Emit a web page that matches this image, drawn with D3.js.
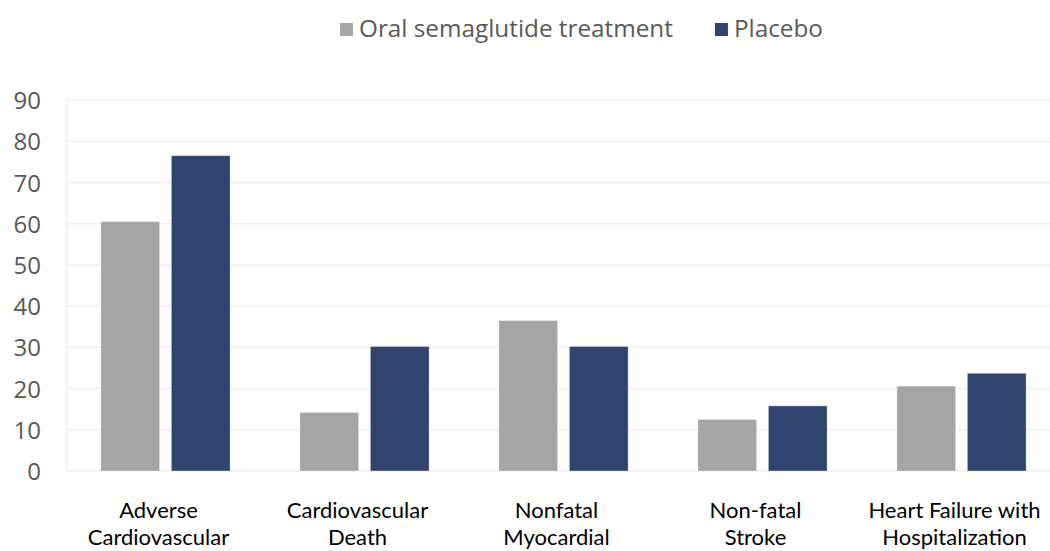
<!DOCTYPE html>
<html>
<head>
<meta charset="utf-8">
<script src="https://cdn.jsdelivr.net/npm/d3@7"></script>
<style>
  body { margin: 0; background: #fff; }
  svg { display: block; }
</style>
</head>
<body>
<svg id="chart"></svg>
<script>
"use strict"
const categorie = [
    ["Adverse", "Cardiovascular"],
    ["Cardiovascular", "Death"],
    ["Nonfatal", "Myocardial"],
    ["Non-fatal", "Stroke"],
    ["Heart Failure with", "Hospitalization"]
];
const serie = ["Oral semaglutide treatment", "Placebo"];
const semaglutide = [60.5, 14.2, 36.5, 12.5, 20.6];
const placebo = [76.5, 30.2, 30.2, 15.8, 23.7];
const tickY = [0, 10, 20, 30, 40, 50, 60, 70, 80, 90];

const colori = ["#a5a5a5", "#31446f"];
const grafico = { w: 1050, h: 551 };

const svg = d3.select("#chart")
    .attr("width", grafico.w)
    .attr("height", grafico.h);

const dati = categorie.map(function (c, i) {
    return { nome: c.join(" "), righe: c, valori: [semaglutide[i], placebo[i]] };
});

const scalaX = d3.scaleBand()
    .domain(dati.map(function (d) { return d.nome }))
    .range([66, 1061]);

const scalaSerie = d3.scaleBand()
    .domain(serie)
    .range([0, scalaX.bandwidth()])
    .paddingInner(0.167)
    .paddingOuter(0.495);

const scalaY = d3.scaleLinear()
    .domain([0, 90])
    .range([471, 100]);

// griglia
svg.append("g")
    .selectAll("line")
    .data(tickY)
    .enter()
    .append("line")
    .attr("x1", 66)
    .attr("x2", grafico.w)
    .attr("y1", function (d) { return scalaY(d) })
    .attr("y2", function (d) { return scalaY(d) })
    .attr("stroke", "#efefef")
    .attr("stroke-width", 1.5);

svg.append("line")
    .attr("x1", 66.5).attr("x2", 66.5)
    .attr("y1", scalaY(90)).attr("y2", scalaY(0))
    .attr("stroke", "#efefef")
    .attr("stroke-width", 1.5);

// asse Y
const asseY = d3.axisLeft(scalaY)
    .tickValues(tickY)
    .tickSize(0)
    .tickPadding(0);

const gY = svg.append("g")
    .attr("transform", "translate(41,0)")
    .call(asseY);
gY.select(".domain").remove();
gY.selectAll("text")
    .attr("font-family", "'Open Sans', sans-serif")
    .attr("font-size", "24px")
    .attr("fill", "#595959")
    .attr("dy", "0.36em");

// barre
const gruppi = svg.append("g")
    .selectAll("g")
    .data(dati)
    .enter()
    .append("g")
    .attr("transform", function (d) { return `translate(${scalaX(d.nome)},0)` });

gruppi.selectAll("rect")
    .data(function (d) { return d.valori.map(function (v, i) { return { s: serie[i], v: v, i: i } }) })
    .enter()
    .append("rect")
    .attr("x", function (d) { return scalaSerie(d.s) })
    .attr("y", function (d) { return scalaY(d.v) })
    .attr("width", scalaSerie.bandwidth())
    .attr("height", function (d) { return scalaY(0) - scalaY(d.v) })
    .attr("fill", function (d) { return colori[d.i] })
    .attr("stroke", "rgba(255,255,255,0.35)")
    .attr("stroke-width", 1);

// etichette categorie (seconda riga tenuta dentro il bordo)
const etichette = svg.append("g")
    .selectAll("text")
    .data(dati)
    .enter()
    .append("text")
    .attr("x", function (d) { return scalaX(d.nome) + scalaX.bandwidth() / 2 - 7 })
    .attr("y", 518)
    .attr("text-anchor", "middle")
    .attr("font-family", "Lato, sans-serif")
    .attr("font-size", "22px")
    .attr("fill", "#000");

etichette.selectAll("tspan")
    .data(function (d) { return d.righe })
    .enter()
    .append("tspan")
    .attr("x", function () { return d3.select(this.parentNode).attr("x") })
    .attr("dy", function (d, i) { return i === 0 ? 0 : 27 })
    .text(function (d) { return d });

// legenda
const legenda = svg.append("g");
let xLeg = 340;
serie.forEach(function (s, i) {
    legenda.append("rect")
        .attr("x", xLeg)
        .attr("y", 23)
        .attr("width", 13)
        .attr("height", 13)
        .attr("fill", colori[i]);
    const t = legenda.append("text")
        .attr("x", xLeg + 19)
        .attr("y", 37)
        .attr("font-family", "'Open Sans', sans-serif")
        .attr("font-size", "24.3px")
        .attr("fill", "#595959")
        .text(s);
    xLeg += 19 + t.node().getComputedTextLength() + 42;
});
</script>
</body>
</html>
